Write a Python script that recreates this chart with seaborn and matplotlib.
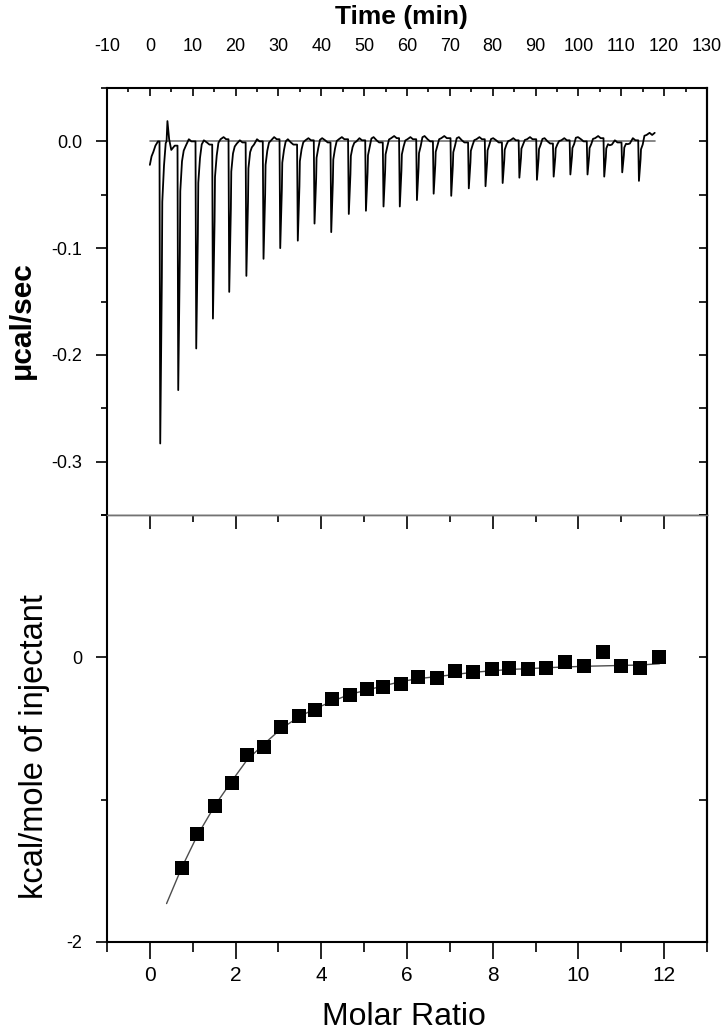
import numpy as np
import pandas as pd
import matplotlib
matplotlib.use('Agg')
import matplotlib.pyplot as plt
from matplotlib.ticker import MultipleLocator, FixedLocator
from matplotlib import font_manager
import seaborn as sns

# ---- raw thermogram (top panel) ----
inj_time = [2.3, 6.5, 10.7, 14.6, 18.4, 22.4, 26.4, 30.3, 34.4, 38.3, 42.2, 46.3, 50.3, 54.4, 58.2,
            62.2, 66.1, 70.2, 74.3, 78.2, 82.2, 86.1, 90.2, 94.1, 98.0, 102.0, 105.9, 110.1, 114.0]
peak_depth = [-0.283, -0.233, -0.194, -0.166, -0.141, -0.126, -0.110, -0.100, -0.093, -0.077,
              -0.085, -0.068, -0.065, -0.061, -0.061, -0.055, -0.049, -0.051, -0.044, -0.042,
              -0.039, -0.034, -0.036, -0.033, -0.031, -0.031, -0.033, -0.029, -0.037]
# baseline level early / late in each gap
gap_level = [0.004, -0.004, 0.001, 0.002, -0.002, -0.003, 0.001, 0.002, 0.001, 0.003,
             0.002, 0.000, 0.004, 0.003, 0.002, 0.005, 0.003, 0.004, 0.002, 0.003,
             0.001, 0.002, 0.003, 0.001, 0.004, 0.003, -0.003, -0.002, 0.006]
gap_level2 = [0.000, 0.002, -0.001, 0.004, 0.001, 0.002, 0.004, -0.001, 0.003, 0.001,
              0.004, 0.003, 0.001, 0.005, 0.004, 0.002, 0.005, 0.001, 0.004, 0.001,
              0.003, 0.004, 0.000, 0.003, 0.002, 0.005, 0.001, 0.003, 0.008]
lead_time = [0.0, 0.4, 0.8, 1.3, 1.9]
lead_level = [-0.022, -0.014, -0.010, -0.004, 0.0]
bump_time = [3.9, 4.1, 4.5, 5.0, 5.8]
bump_level = [0.0, 0.019, 0.002, -0.008, -0.004]
trace_end = 117.8

# ---- integrated heats (bottom panel) ----
molar_ratio = [0.74, 1.11, 1.52, 1.91, 2.27, 2.66, 3.07, 3.47, 3.86, 4.25, 4.66, 5.07, 5.45, 5.87,
               6.25, 6.71, 7.13, 7.55, 7.98, 8.39, 8.82, 9.25, 9.69, 10.12, 10.57, 10.99, 11.44, 11.89]
heat = [-1.477, -1.242, -1.047, -0.880, -0.685, -0.627, -0.486, -0.411, -0.373, -0.294, -0.263,
        -0.221, -0.211, -0.185, -0.141, -0.146, -0.099, -0.106, -0.082, -0.075, -0.082, -0.075,
        -0.033, -0.058, 0.037, -0.058, -0.075, 0.0]
fit_ratio = [0.39] + molar_ratio
fit_heat = [-1.73, -1.48, -1.25, -1.04, -0.87, -0.72, -0.61, -0.50, -0.42, -0.36, -0.31, -0.26,
            -0.23, -0.20, -0.17, -0.15, -0.135, -0.12, -0.105, -0.095, -0.085, -0.08, -0.073,
            -0.068, -0.063, -0.06, -0.057, -0.054, -0.045]

sns.set_style('ticks')
names = {f.name for f in font_manager.fontManager.ttflist}
label_font = 'Liberation Sans' if 'Liberation Sans' in names else 'DejaVu Sans'
tick_font = 'Liberation Sans Narrow' if 'Liberation Sans Narrow' in names else label_font
plt.rcParams['font.family'] = [label_font, 'DejaVu Sans']
plt.rcParams['axes.unicode_minus'] = False
for k in ['text.color', 'axes.labelcolor', 'xtick.color', 'ytick.color', 'axes.edgecolor']:
    plt.rcParams[k] = 'black'

# build the thermogram polyline from the injection table
tt = list(lead_time)
vv = list(lead_level)
prev = lead_level[-1]
for i, (t, d, g, g2) in enumerate(zip(inj_time, peak_depth, gap_level, gap_level2)):
    tt += [t - 0.05, t + 0.12, t + 0.5, t + 0.6, t + 1.0, t + 1.4]
    vv += [prev, d, 0.45 * d, 0.2 * d, 0.08 * d, 0.02 * d + g]
    if i == 0:
        tt += bump_time
        vv += bump_level
        prev = bump_level[-1]
        continue
    tt += [t + 1.9, t + 2.6, t + 3.2]
    vv += [g, g2, g2 - 0.002]
    prev = g2 - 0.002
tt.append(trace_end)
vv.append(gap_level2[-1])
trace = pd.DataFrame({'t': tt, 'v': vv})

fig = plt.figure(figsize=(7.25, 10.3), dpi=100)
L, W = 107 / 725, 600 / 725
ax1 = fig.add_axes([L, 1 - 515 / 1030, W, 427 / 1030])
ax2 = fig.add_axes([L, 1 - 942 / 1030, W, 427 / 1030])

# top panel
ax1.plot([0, trace_end], [0, 0], color='0.45', lw=1.2)
sns.lineplot(data=trace, x='t', y='v', ax=ax1, color='black', lw=1.3, sort=False, estimator=None)
ax1.set_xlim(-10, 130)
ax1.set_ylim(-0.35, 0.05)
ax1.xaxis.tick_top()
ax1.xaxis.set_major_locator(MultipleLocator(10))
ax1.xaxis.set_minor_locator(MultipleLocator(5))
ax1.tick_params(axis='x', which='major', direction='in', length=6, width=1.2, pad=24)
ax1.tick_params(axis='x', which='minor', direction='in', length=3, width=1.2)
ax1.yaxis.set_major_locator(FixedLocator([0.0, -0.1, -0.2, -0.3]))
ax1.yaxis.set_minor_locator(MultipleLocator(0.05))
ax1.set_yticklabels(['0.0', '-0.1', '-0.2', '-0.3'])
ax1.tick_params(axis='y', which='major', direction='out', length=8, width=1.2, pad=10)
ax1.tick_params(axis='y', which='minor', direction='out', length=4, width=1.2)
sec = ax1.secondary_yaxis('right')
sec.yaxis.set_major_locator(MultipleLocator(0.05))
sec.tick_params(direction='in', length=6, width=1.2, labelright=False)
sec.spines['right'].set_linewidth(1.5)
ax1.set_xlabel('Time (min)', fontsize=19, fontweight='bold')
ax1.xaxis.set_label_position('top')
ax1.xaxis.set_label_coords(0.49, 1.15)
ax1.set_ylabel('\u03bccal/sec', fontsize=21.5, fontweight='bold')
ax1.yaxis.set_label_coords(-0.118, 0.457)

# bottom panel
sns.lineplot(x=fit_ratio, y=fit_heat, ax=ax2, color='0.3', lw=1.0, sort=False, estimator=None)
sns.scatterplot(x=molar_ratio, y=heat, ax=ax2, marker='s', s=110, color='black',
                edgecolor='black', linewidth=0, zorder=3)
ax2.set_xlim(-1, 13)
ax2.set_ylim(-2, 1)
ax2.xaxis.set_major_locator(MultipleLocator(2))
ax2.xaxis.set_minor_locator(MultipleLocator(1))
ax2.tick_params(axis='x', which='major', direction='out', length=12, width=1.2, pad=5)
ax2.tick_params(axis='x', which='minor', direction='out', length=7, width=1.2)
ax2.yaxis.set_major_locator(FixedLocator([0, -2]))
ax2.yaxis.set_minor_locator(MultipleLocator(1))
ax2.tick_params(axis='y', which='major', direction='out', length=8, width=1.2, pad=10)
ax2.tick_params(axis='y', which='minor', direction='out', length=4, width=1.2)
sec_t = ax2.secondary_xaxis('top')
sec_t.xaxis.set_major_locator(MultipleLocator(2))
sec_t.xaxis.set_minor_locator(MultipleLocator(1))
sec_t.tick_params(which='major', direction='in', length=10, width=1.2, labeltop=False)
sec_t.tick_params(which='minor', direction='in', length=5, width=1.2)
sec_t.spines['top'].set_color('0.45')
sec_t.spines['top'].set_linewidth(1.0)
sec_r = ax2.secondary_yaxis('right')
sec_r.yaxis.set_major_locator(MultipleLocator(1))
sec_r.tick_params(direction='in', length=6, width=1.2, labelright=False)
sec_r.spines['right'].set_linewidth(1.5)
ax2.set_xlabel('Molar Ratio', fontsize=23)
ax2.xaxis.set_label_coords(0.495, -0.14)
ax2.set_ylabel('kcal/mole of injectant', fontsize=23.5)
ax2.yaxis.set_label_coords(-0.095, 0.457)

for ax in (ax1, ax2):
    for s in ax.spines.values():
        s.set_linewidth(1.5)
        s.set_color('black')
    for lab in ax.get_xticklabels() + ax.get_yticklabels():
        lab.set_fontfamily(tick_font)
        lab.set_fontsize(13)
for lab in ax2.get_xticklabels():
    lab.set_fontsize(15)
ax1.spines['bottom'].set_color('0.45')
ax1.spines['bottom'].set_linewidth(1.0)
ax2.spines['top'].set_color('0.45')
ax2.spines['top'].set_linewidth(1.0)

fig.savefig('out.png', dpi=100, facecolor='white')
